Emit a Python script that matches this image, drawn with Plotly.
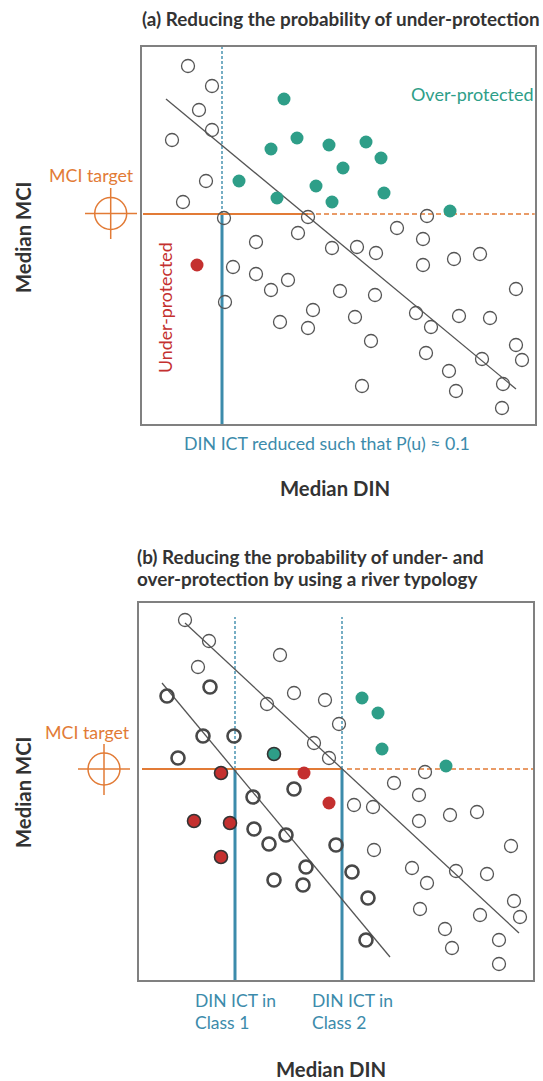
import plotly.graph_objects as go

W, H = 543, 1081
# ---- panel (a) values: Median DIN, Median MCI (arbitrary units)
a_open_din = [47,71,58,71,31,65,42,83,167,286,256,157,115,282,191,216,235,282,313,339,92,115,130,147,199,234,84,375,172,139,167,214,275,290,318,349,230,375,285,341,381,308,221,362,315,361]
a_open_mci = [359,339,315,295,285,244,223,207,208,209,197,192,183,186,177,178,172,160,166,171,158,151,135,145,134,130,123,136,115,103,97,108,112,98,109,107,84,80,72,66,65,54,39,41,34,17]
a_over_din = [143,156,130,188,225,240,202,98,175,136,191,243,309]
a_over_mci = [326,287,276,280,283,267,257,244,239,227,223,232,214]
a_under_din = [56]
a_under_mci = [160]
a_fit_din = [25,375]
a_fit_mci = [326,36]
a_target = 211
a_ict = 81
a_din_range = [1, 393.7]
a_mci_range = [0.7, 378]

# ---- panel (b) values
b_open_din = [47,71,142,60,156,129,187,201,176,191,287,256,281,216,235,281,312,339,373,236,274,289,318,349,376,382,282,342,307,361,314,361]
b_open_mci = [361,340,326,314,288,277,281,257,238,223,209,198,186,176,174,160,166,169,135,131,113,98,110,107,80,64,72,66,52,41,33,17]
b_class1_din = [29,72,65,96,40,156,115,116,131,148,198,168,214,136,165,230,228]
b_class1_mci = [285,294,245,245,223,192,184,152,137,146,136,114,109,101,96,83,41]
b_over_din = [224,240,244,308]
b_over_mci = [283,268,232,215]
b_over1_din = [136]
b_over1_mci = [227]
b_under_din = [166,191]
b_under_mci = [208,178]
b_under1_din = [83,56,92,83]
b_under1_mci = [208,160,158,124]
b_fit2_din = [47,381]
b_fit2_mci = [358,48]
b_fit1_din = [24,252]
b_fit1_mci = [298,24]
b_target = 212
b_ict = [97,204]
b_din_range = [0.5, 395]
b_mci_range = [0.7, 378]

ORANGE = "#E27B36"
TEAL = "#2E9E88"
BLUE = "#3C8BAB"
RED = "#C4302F"
DARK = "#333333"
GREY = "#555555"
FONT = "Lato"

fig = go.Figure()

def line(xs, ys, color, width, dash, ax):
    fig.add_trace(go.Scatter(x=xs, y=ys, mode="lines", xaxis=ax[0], yaxis=ax[1],
                             line=dict(color=color, width=width, dash=dash),
                             showlegend=False, hoverinfo="skip"))

def pts(xs, ys, ax, color, lw, lc, size=13, sym="circle"):
    fig.add_trace(go.Scatter(x=xs, y=ys, mode="markers", xaxis=ax[0], yaxis=ax[1], cliponaxis=False,
                             marker=dict(symbol=sym, size=size, color=color, line=dict(width=lw, color=lc)),
                             showlegend=False, hoverinfo="skip"))

def target(cx, cy, r, x0, x1, y0, y1):
    ln = dict(color=ORANGE, width=1.5)
    fig.add_shape(type="circle", xref="paper", yref="paper", x0=(cx - r) / W, x1=(cx + r) / W,
                  y0=1 - (cy + r) / H, y1=1 - (cy - r) / H, line=ln)
    fig.add_shape(type="line", xref="paper", yref="paper", x0=x0 / W, x1=x1 / W,
                  y0=1 - cy / H, y1=1 - cy / H, line=ln)
    fig.add_shape(type="line", xref="paper", yref="paper", x0=cx / W, x1=cx / W,
                  y0=1 - y0 / H, y1=1 - y1 / H, line=ln)

A = ("x", "y")
B = ("x2", "y2")

# Panel a
line([a_ict, a_ict], [a_target, 380], BLUE, 1.4, "3px,2px", A)
line([a_ict, a_ict], [0, a_target], BLUE, 3, "solid", A)
line([2, 167], [a_target, a_target], ORANGE, 1.8, "solid", A)
line([167, 395], [a_target, a_target], ORANGE, 1.4, "5px,3px", A)
line(a_fit_din, a_fit_mci, GREY, 1.3, "solid", A)
pts(a_open_din, a_open_mci, A, "rgba(0,0,0,0)", 1.3, GREY)
pts(a_over_din, a_over_mci, A, TEAL, 0, TEAL)
pts(a_under_din, a_under_mci, A, RED, 0, RED)
target(110.7, 213.5, 16, 85, 137, 188, 239)

# Panel b
for ict in b_ict:
    line([ict, ict], [b_target, 364], BLUE, 1.4, "3px,2px", B)
    line([ict, ict], [0, b_target], BLUE, 3, "solid", B)
line([4, 203], [b_target, b_target], ORANGE, 1.8, "solid", B)
line([209, 397], [b_target, b_target], ORANGE, 1.4, "5px,3px", B)
line(b_fit2_din, b_fit2_mci, GREY, 1.3, "solid", B)
line(b_fit1_din, b_fit1_mci, GREY, 1.3, "solid", B)
pts(b_open_din, b_open_mci, B, "rgba(0,0,0,0)", 1.3, GREY)
pts(b_class1_din, b_class1_mci, B, "rgba(0,0,0,0)", 2.6, "#484848")
pts(b_over_din, b_over_mci, B, TEAL, 0, TEAL)
pts(b_over1_din, b_over1_mci, B, TEAL, 1.6, "#333333")
pts(b_under_din, b_under_mci, B, RED, 0, RED)
pts(b_under1_din, b_under1_mci, B, RED, 1.6, "#333333")
target(104, 769, 16, 78, 130, 744, 795)

def text(px, py, s, color, size, xanchor="left", weight=400, angle=0):
    fig.add_annotation(x=px / W, y=1 - py / H, xref="paper", yref="paper", text=s, showarrow=False,
                       xanchor=xanchor, yanchor="middle", align="left", textangle=angle,
                       font=dict(family=FONT, size=size, color=color, weight=weight))

text(140, 19, "(a) Reducing the probability of under-protection", DARK, 18.85, weight=700)
text(135, 556, "(b) Reducing the probability of under- and", DARK, 18.85, weight=700)
text(135, 578, "over-protection by using a river typology", DARK, 18.85, weight=700)
text(409, 94, "Over-protected", TEAL, 18)
text(165, 308, "Under-protected", RED, 17.8, "center", angle=-90)
text(47, 175, "MCI target", ORANGE, 17.8)
text(43, 732, "MCI target", ORANGE, 17.8)
text(182, 443, "DIN ICT reduced such that P(u) ≈ 0.1", BLUE, 17.8)
text(335, 488, "Median DIN", DARK, 20.3, "center", 700)
text(331, 1068.5, "Median DIN", DARK, 20.3, "center", 700)
text(23, 237, "Median MCI", DARK, 20.3, "center", 700, -90)
text(23, 792, "Median MCI", DARK, 20.3, "center", 700, -90)
text(193, 1000, "DIN ICT in", BLUE, 17.5)
text(193, 1022, "Class 1", BLUE, 17.5)
text(310, 1000, "DIN ICT in", BLUE, 17.5)
text(310, 1022, "Class 2", BLUE, 17.5)

def axis(dom, rng, anchor):
    return dict(domain=dom, range=rng, anchor=anchor, showticklabels=False, ticks="", showgrid=False,
                zeroline=False, showline=True, mirror=True, linecolor="#808080", linewidth=2)

fig.update_layout(
    width=W, height=H, margin=dict(l=0, r=0, t=0, b=0), autosize=False,
    paper_bgcolor="white", plot_bgcolor="white", showlegend=False,
    xaxis=axis([142 / W, 534.7 / W], a_din_range, "y"),
    yaxis=axis([1 - 424.3 / H, 1 - 47 / H], a_mci_range, "x"),
    xaxis2=axis([138.5 / W, 533 / W], b_din_range, "y2"),
    yaxis2=axis([1 - 980.3 / H, 1 - 603 / H], b_mci_range, "x2"),
)

fig.write_html("out.html", config={"displayModeBar": False},
               post_script="document.body.style.margin='0';document.body.style.overflow='hidden';")
